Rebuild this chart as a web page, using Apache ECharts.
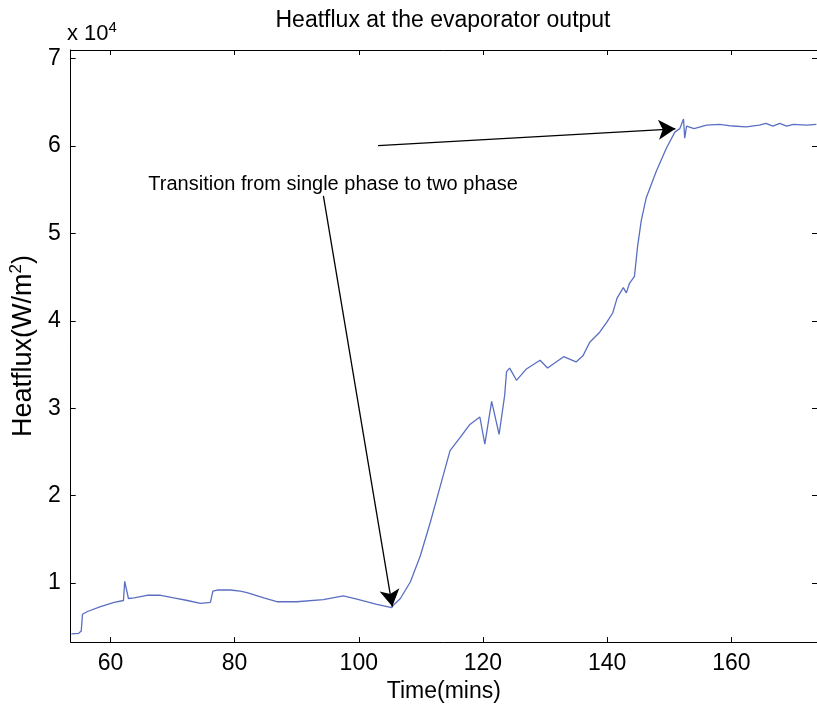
<!DOCTYPE html>
<html>
<head>
<meta charset="utf-8">
<script src="https://cdn.jsdelivr.net/npm/echarts@6/dist/echarts.min.js"></script>
<style>html,body{margin:0;padding:0;background:#fff;}#c{width:817px;height:708px;}</style>
</head>
<body>
<div id="c"></div>
<script>
const time = [53.7,54.9,55.3,55.5,56.3,58.4,60.6,62.1,62.3,62.6,62.9,63.8,65.9,68.1,70.2,72.4,74.5,76.1,76.5,77.2,79.3,80.9,82.0,84.7,86.8,90.0,94.3,97.5,99.7,102.9,105.3,105.6,106.7,108.3,109.9,111.5,113.4,114.7,116.3,117.9,119.5,120.3,121.4,122.6,123.5,123.8,124.3,125.4,127.0,129.2,130.4,133.0,135.0,136.1,137.2,138.8,139.9,140.9,141.6,142.6,143.1,143.6,144.4,144.9,145.5,146.3,147.9,149.5,150.9,151.7,152.3,152.5,152.8,154.0,156.0,158.1,160.2,162.4,164.5,165.6,166.7,167.8,168.9,170.0,172.1,173.7];
const heatflux = [4180,4250,4500,6430,6740,7300,7780,8000,10200,10100,8230,8300,8600,8600,8300,8000,7670,7780,9070,9200,9200,9070,8910,8300,7860,7860,8100,8540,8170,7560,7190,7490,8230,10120,13100,16900,21800,25150,26650,28150,29000,25900,30800,27000,31500,34200,34600,33200,34500,35500,34600,35900,35300,36000,37550,38700,39800,40900,42600,43800,43200,44300,45100,48500,51500,54100,57100,59700,61600,62000,63100,60900,62300,62000,62400,62500,62300,62200,62400,62600,62300,62600,62300,62500,62400,62500];
const xTicks = [60,80,100,120,140,160];
const yTicks = [10000,20000,30000,40000,50000,60000,70000];
const xRange = [53.6, 173.8];
const yRange = [3240, 71000];
const arrow1 = [[94.3, 54300], [105.4, 7300]];
const arrow2 = [[103.1, 60060], [151.0, 61980]];
const noteAt = [66.1, 55660];
const noteText = 'Transition from single phase to two phase';
const titleText = 'Heatflux at the evaporator output';

const FONT = '"Liberation Sans", Arial, sans-serif';
const chart = echarts.init(document.getElementById('c'), null, {renderer:'canvas'});
const axisCommon = {
  type:'value', scale:true,
  axisLine:{show:true, onZero:false, lineStyle:{color:'#000', width:1}},
  axisTick:{show:true, inside:true, length:5, lineStyle:{color:'#000'}},
  splitLine:{show:false}
};
chart.setOption({
  animation:false,
  backgroundColor:'#fff',
  grid:{left:69, right:0, top:50, bottom:57, containLabel:false},
  graphic:[
    {type:'text', x:443, y:21, style:{text:titleText, font:'23px '+FONT, fill:'#000', align:'center', verticalAlign:'middle'}},
    {type:'text', x:67, y:34, style:{rich:{b:{fontSize:22, fontFamily:FONT, fill:'#000'}, s:{fontSize:15, fontFamily:FONT, fill:'#000', verticalAlign:'bottom', padding:[0,0,12,0]}}, text:'{b|x 10}{s|4}', fill:'#000', verticalAlign:'middle'}}
  ],
  xAxis:[
    Object.assign({}, axisCommon, {min:xRange[0], max:xRange[1], position:'bottom',
      name:'Time(mins)', nameLocation:'middle', nameGap:28,
      nameTextStyle:{fontSize:23, fontFamily:FONT, color:'#000'},
      axisTick:{show:true, inside:true, length:5, lineStyle:{color:'#000'}, customValues:xTicks},
      axisLabel:{customValues:xTicks, fontSize:23, fontFamily:FONT, color:'#000', margin:10}}),
    Object.assign({}, axisCommon, {min:xRange[0], max:xRange[1], position:'top',
      axisTick:{show:true, inside:true, length:5, lineStyle:{color:'#000'}, customValues:xTicks},
      axisLabel:{show:false}})
  ],
  yAxis:[
    Object.assign({}, axisCommon, {min:yRange[0], max:yRange[1], position:'left',
      name:'Heatflux(W/m{s|2})', nameLocation:'middle', nameGap:25, nameRotate:90,
      nameTextStyle:{fontSize:27, fontFamily:FONT, color:'#000', rich:{s:{fontSize:17, fontFamily:FONT, color:'#000', verticalAlign:'bottom', padding:[0,0,14,0]}}},
      axisTick:{show:true, inside:true, length:5, lineStyle:{color:'#000'}, customValues:yTicks},
      axisLabel:{customValues:yTicks, formatter:v=>String(Math.round(v/10000)), fontSize:23, fontFamily:FONT, color:'#000', margin:10}}),
    Object.assign({}, axisCommon, {min:yRange[0], max:yRange[1], position:'right',
      axisTick:{show:true, inside:true, length:5, lineStyle:{color:'#000'}, customValues:yTicks},
      axisLabel:{show:false}})
  ],
  series:[{
    type:'line',
    data:time.map((t,i)=>[t, heatflux[i]]),
    showSymbol:false, symbol:'none',
    lineStyle:{color:'#5a6fc2', width:1.3},
    markLine:{
      silent:true, animation:false,
      symbol:['none','arrow'], symbolSize:[15,17],
      label:{show:false},
      lineStyle:{color:'#000', width:1.3, type:'solid'},
      emphasis:{disabled:true},
      data:[
        [{coord:arrow1[0], symbol:'none'},{coord:arrow1[1], symbol:'arrow'}],
        [{coord:arrow2[0], symbol:'none'},{coord:arrow2[1], symbol:'arrow'}]
      ]
    },
    markPoint:{
      silent:true, animation:false,
      data:[{coord:noteAt, symbol:'circle', symbolSize:1, itemStyle:{color:'rgba(0,0,0,0)'},
        label:{show:true, formatter:noteText, position:'inside', align:'left', verticalAlign:'middle', fontSize:20, fontFamily:FONT, color:'#000'}}]
    }
  }]
});
</script>
</body>
</html>
